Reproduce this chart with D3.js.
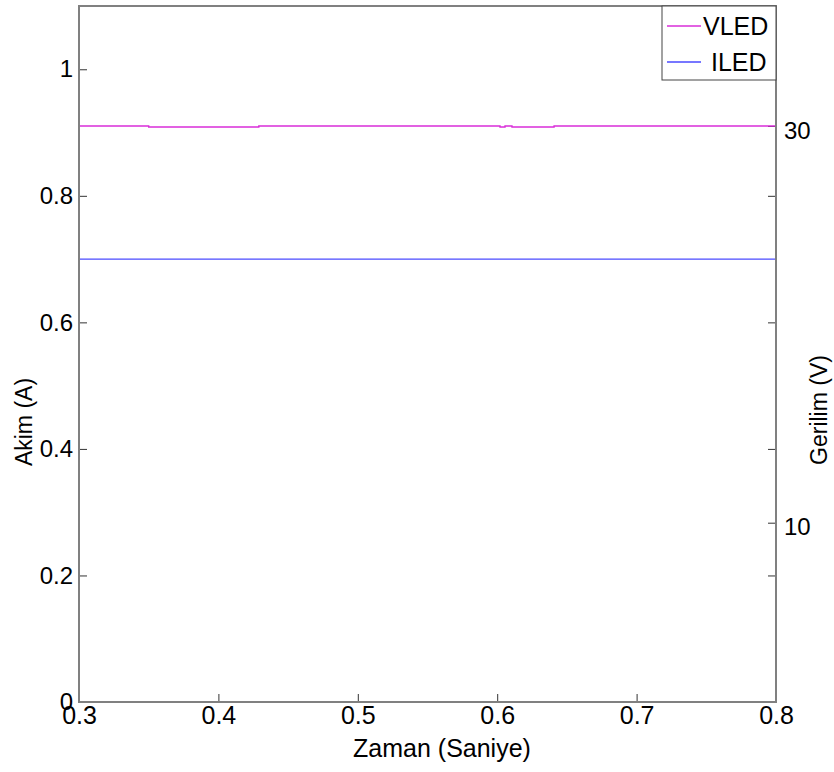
<!DOCTYPE html>
<html>
<head>
<meta charset="utf-8">
<script src="https://cdn.jsdelivr.net/npm/d3@7"></script>
<style>
  html, body { margin: 0; padding: 0; background: #fff; }
  svg { display: block; font-family: Arial, "Liberation Sans", sans-serif; }
</style>
</head>
<body>
<svg id="chart" width="834" height="772"></svg>
<script>
// LED voltage (right axis, V) and LED current (left axis, A) against time (s)
const vledTime  = [0.3, 0.35, 0.35, 0.429, 0.429, 0.602, 0.602, 0.6056, 0.6056, 0.6106, 0.6106, 0.6408, 0.6408, 0.8];
const vledValue = [30, 30, 29.95, 29.95, 30, 30, 29.95, 29.95, 30, 30, 29.95, 29.95, 30, 30];
const iledTime  = [0.3, 0.4, 0.5, 0.6, 0.7, 0.8];
const iledValue = [0.7, 0.7, 0.7, 0.7, 0.7, 0.7];

const xTicks      = [0.3, 0.4, 0.5, 0.6, 0.7, 0.8];
const leftTicks   = [0, 0.2, 0.4, 0.6, 0.8, 1];
const rightTicks  = [10, 30];
const seriesNames = ["VLED", "ILED"];
const seriesColors = ["#d92ed9", "#4a4aff"];

const plot = { left: 79, right: 776, top: 6, bottom: 702 };

const svg = d3.select("#chart");

const x  = d3.scaleLinear().domain([0.3, 0.8]).range([plot.left, plot.right]);
const yL = d3.scaleLinear().domain([0, 1.1]).range([plot.bottom, plot.top]);
const yR = d3.scaleLinear().domain([0.96, 36.05]).range([plot.bottom, plot.top]);

const fmt = d => (d === 0 || d === 1) ? String(d) : d3.format(".1f")(d);

// bottom axis (ticks pointing inward)
const xAxis = d3.axisBottom(x).tickValues(xTicks).tickFormat(d3.format(".1f"))
  .tickSizeInner(-8).tickSizeOuter(0).tickPadding(4);
const gx = svg.append("g").attr("transform", `translate(0,${plot.bottom})`).call(xAxis);

// left axis
const yAxisL = d3.axisLeft(yL).tickValues(leftTicks).tickFormat(fmt)
  .tickSizeInner(-8).tickSizeOuter(0).tickPadding(6);
const gyl = svg.append("g").attr("transform", `translate(${plot.left},0)`).call(yAxisL);

// mirrored left ticks on the right edge
const yAxisLR = d3.axisRight(yL).tickValues(leftTicks.slice(1, 5)).tickFormat("")
  .tickSizeInner(-8).tickSizeOuter(0);
const gylr = svg.append("g").attr("transform", `translate(${plot.right},0)`).call(yAxisLR);

// right axis
const yAxisR = d3.axisRight(yR).tickValues(rightTicks).tickFormat(d3.format("d"))
  .tickSizeInner(-8).tickSizeOuter(0).tickPadding(8);
const gyr = svg.append("g").attr("transform", `translate(${plot.right},0)`).call(yAxisR);

[gx, gyl, gylr, gyr].forEach(g => {
  g.select(".domain").remove();
  g.selectAll(".tick line").attr("stroke", "#333").attr("stroke-width", 1);
  g.selectAll(".tick text").attr("fill", "#000").style("font-size", "24px");
});
gx.selectAll(".tick text").style("font-size", "25px");
gyr.selectAll(".tick text").attr("dy", "0.5em");

// data lines
const lineV = d3.line().x((d, i) => x(vledTime[i])).y(d => yR(d));
const lineI = d3.line().x((d, i) => x(iledTime[i])).y(d => yL(d));

svg.append("path").datum(vledValue).attr("d", lineV)
  .attr("fill", "none").attr("stroke", seriesColors[0]).attr("stroke-width", 1.4);
svg.append("path").datum(iledValue).attr("d", lineI)
  .attr("fill", "none").attr("stroke", seriesColors[1]).attr("stroke-width", 1.4);

// plot frame
svg.append("rect")
  .attr("x", plot.left).attr("y", plot.top)
  .attr("width", plot.right - plot.left).attr("height", plot.bottom - plot.top)
  .attr("fill", "none").attr("stroke", "#808080").attr("stroke-width", 2);

// axis titles
svg.append("text").attr("x", 442).attr("y", 757).attr("text-anchor", "middle")
  .style("font-size", "25px").text("Zaman (Saniye)");
svg.append("text").attr("transform", "translate(32,422) rotate(-90)")
  .attr("text-anchor", "middle").style("font-size", "23px").text("Akim (A)");
svg.append("text").attr("transform", "translate(827,410) rotate(-90)")
  .attr("text-anchor", "middle").style("font-size", "23px").text("Gerilim (V)");

// legend
const lg = svg.append("g");
lg.append("rect").attr("x", 662).attr("y", 6).attr("width", 114).attr("height", 74)
  .attr("fill", "#fff").attr("stroke", "#444").attr("stroke-width", 1);
const legY = [26, 62];
const legTextX = [703, 711];
seriesNames.forEach((name, i) => {
  lg.append("line").attr("x1", 667).attr("x2", 701).attr("y1", legY[i]).attr("y2", legY[i])
    .attr("stroke", seriesColors[i]).attr("stroke-width", 1.3);
  lg.append("text").attr("x", legTextX[i]).attr("y", legY[i]).attr("dy", "0.36em")
    .style("font-size", "25px").text(name);
});
</script>
</body>
</html>
